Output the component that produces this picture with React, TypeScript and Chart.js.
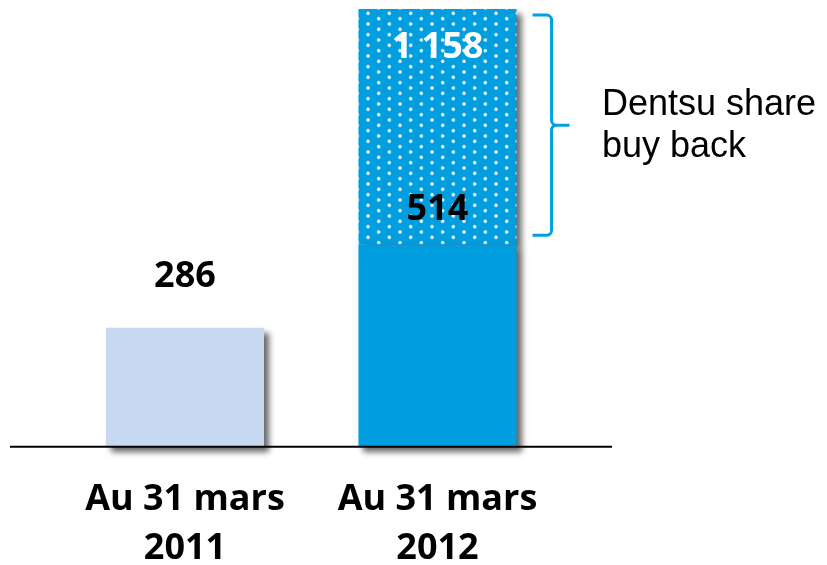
import React, { useEffect, useRef } from "react";
import { Chart, registerables } from "chart.js";

Chart.register(...registerables);

// ---- data ----
const categories: string[][] = [
  ["Au 31 mars", "2011"],
  ["Au 31 mars", "2012"],
];
const baseValues: (number | null)[] = [286, 514];
const buybackValues: (number | null)[] = [null, 644];
const valueLabels: string[] = ["286", "514", "1 158"];
const braceText: string[] = ["Dentsu share", "buy back"];
const axisMin = -40;
const axisMax = 1158;

// ---- styles ----
const LIGHT = "#C6D9F0";
const BLUE = "#009DDF";
const BRACE = "#00A0E2";

function makeDotPattern(ctx: CanvasRenderingContext2D): CanvasPattern | string {
  const tile = document.createElement("canvas");
  tile.width = 64;
  tile.height = 32;
  const t = tile.getContext("2d");
  if (!t) return BLUE;
  t.fillStyle = BLUE;
  t.fillRect(0, 0, 64, 32);
  const dots = [
    [16, 8],
    [48, 24],
  ];
  for (const [cx, cy] of dots) {
    const g = t.createRadialGradient(cx, cy, 0, cx, cy, 7);
    g.addColorStop(0, "rgba(255,255,255,1)");
    g.addColorStop(0.45, "rgba(255,255,255,0.95)");
    g.addColorStop(1, "rgba(255,255,255,0)");
    t.fillStyle = g;
    t.beginPath();
    t.arc(cx, cy, 7, 0, Math.PI * 2);
    t.fill();
  }
  const p = ctx.createPattern(tile, "repeat");
  if (!p) return BLUE;
  p.setTransform(new DOMMatrix([1 / 3, 0, 0, 1 / 3, 0, 0]));
  return p;
}

const decorPlugin = {
  id: "decor",
  beforeDatasetDraw(chart: any) {
    const ctx = chart.ctx;
    ctx.save();
    ctx.shadowColor = "rgba(0,0,0,0.6)";
    ctx.shadowBlur = 6;
    ctx.shadowOffsetX = 5;
    ctx.shadowOffsetY = 5;
  },
  afterDatasetDraw(chart: any) {
    chart.ctx.restore();
  },
  afterDatasetsDraw(chart: any) {
    const ctx = chart.ctx as CanvasRenderingContext2D;
    const y = chart.scales.y;
    const area = chart.chartArea;

    // baseline
    ctx.save();
    ctx.strokeStyle = "#000";
    ctx.lineWidth = 2;
    ctx.beginPath();
    ctx.moveTo(10, area.bottom);
    ctx.lineTo(612, area.bottom);
    ctx.stroke();
    ctx.restore();

    const m0 = chart.getDatasetMeta(0).data;
    const m1 = chart.getDatasetMeta(1).data;
    const total = (baseValues[1] as number) + (buybackValues[1] as number);

    ctx.save();
    ctx.font = "bold 36px 'Open Sans'";
    ctx.textAlign = "center";
    ctx.textBaseline = "alphabetic";
    ctx.fillStyle = "#000";
    ctx.fillText(valueLabels[0], m0[0].x, y.getPixelForValue(baseValues[0]) - 41);
    ctx.fillText(valueLabels[1], m0[1].x, y.getPixelForValue(baseValues[1]) - 24);
    ctx.fillStyle = "#fff";
    ctx.fillText(valueLabels[2], m1[1].x, y.getPixelForValue(total) + 49);
    ctx.restore();

    // brace
    const right = m1[1].x + m1[1].width / 2;
    const top = y.getPixelForValue(total) + 6;
    const bot = y.getPixelForValue(baseValues[1]) - 9;
    const mid = (top + bot) / 2;
    const xt = right + 16;
    const xv = right + 35;
    const xm = right + 53;
    const r = 5;
    ctx.save();
    ctx.strokeStyle = BRACE;
    ctx.lineWidth = 3;
    ctx.lineJoin = "round";
    ctx.beginPath();
    ctx.moveTo(xt, top);
    ctx.arcTo(xv, top, xv, top + r, r);
    ctx.arcTo(xv, mid, xm, mid, r);
    ctx.lineTo(xm, mid);
    ctx.moveTo(xm, mid);
    ctx.arcTo(xv, mid, xv, bot, r);
    ctx.arcTo(xv, bot, xt, bot, r);
    ctx.lineTo(xt, bot);
    ctx.stroke();
    ctx.restore();

    ctx.save();
    ctx.font = "36px 'Liberation Sans'";
    ctx.fillStyle = "#000";
    ctx.textAlign = "left";
    ctx.textBaseline = "alphabetic";
    ctx.fillText(braceText[0], 602, 115);
    ctx.fillText(braceText[1], 602, 157);
    ctx.restore();
  },
};

export default function App() {
  const ref = useRef<HTMLCanvasElement | null>(null);

  useEffect(() => {
    document.body.style.margin = "0";
    const canvas = ref.current;
    if (!canvas) return;
    const ctx = canvas.getContext("2d");
    if (!ctx) return;
    const pattern = makeDotPattern(ctx);

    const chart = new Chart(canvas, {
      type: "bar",
      data: {
        labels: categories,
        datasets: [
          {
            label: "Base",
            data: baseValues,
            backgroundColor: [LIGHT, BLUE],
            borderWidth: 0,
            base: axisMin,
            clip: false as any,
            barPercentage: 0.626,
            categoryPercentage: 1,
          } as any,
          {
            label: "Dentsu share buy back",
            data: buybackValues,
            backgroundColor: pattern as any,
            borderWidth: 0,
            clip: false as any,
            barPercentage: 0.626,
            categoryPercentage: 1,
          } as any,
        ],
      },
      options: {
        responsive: false,
        animation: false,
        devicePixelRatio: 1,
        layout: {
          padding: { left: 58.75, right: 263.25, top: 9, bottom: -37 },
        },
        plugins: {
          legend: { display: false },
          tooltip: { enabled: false },
        },
        scales: {
          x: {
            stacked: true,
            grid: { display: false, drawTicks: false },
            border: { display: false },
            ticks: {
              color: "#000",
              padding: 29,
              font: { family: "'Open Sans'", weight: "bold", size: 36, lineHeight: 1.35 },
              maxRotation: 0,
              autoSkip: false,
            },
          },
          y: {
            display: false,
            stacked: true,
            min: axisMin,
            max: axisMax,
          },
        },
      },
      plugins: [decorPlugin],
    });

    return () => chart.destroy();
  }, []);

  return (
    <div style={{ width: 827, height: 565, overflow: "hidden" }}>
      <canvas ref={ref} width={827} height={565} style={{ display: "block" }} />
    </div>
  );
}
